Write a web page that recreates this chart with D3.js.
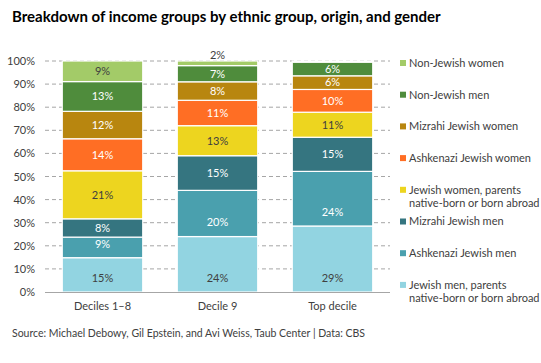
<!DOCTYPE html>
<html>
<head>
<meta charset="utf-8">
<script src="https://cdn.jsdelivr.net/npm/d3@7"></script>
<style>
  body { margin: 0; background: #fff; }
  text { font-family: Lato, "Open Sans", sans-serif; }
</style>
</head>
<body>
<div id="chart"></div>
<script>
const groups = ['Deciles 1\u20138', 'Decile 9', 'Top decile'];
// series listed bottom to top of the stack
const seriesNames = [
  'Jewish men, parents\nnative-born or born abroad',
  'Ashkenazi Jewish men',
  'Mizrahi Jewish men',
  'Jewish women, parents\nnative-born or born abroad',
  'Ashkenazi Jewish women',
  'Mizrahi Jewish women',
  'Non-Jewish men',
  'Non-Jewish women'
];
const deciles18 = [15, 9, 8, 21, 14, 12, 13, 9];
const decile9 = [24, 20, 15, 13, 11, 8, 7, 2];
const topDecile = [29, 24, 15, 11, 10, 6, 6, 0.5];
const yTicks = [0, 0.1, 0.2, 0.3, 0.4, 0.5, 0.6, 0.7, 0.8, 0.9, 1];
const colors = ['#92d4e1', '#4aa0ae', '#357580', '#edd51f', '#ff6e24', '#b8860f', '#4f8c3c', '#a3cb68'];
const darkLabel = ['#404040', '#fff', '#fff', '#404040', '#fff', '#fff', '#fff', '#404040'];

const width = 541, height = 363;
const margin = {top: 61, left: 45, right: 151, bottom: 71};

const svg = d3.select('#chart').append('svg')
    .attr('width', width)
    .attr('height', height);

// Title
svg.append('text')
    .text('Breakdown of income groups by ethnic group, origin, and gender')
    .attr('x', 12)
    .attr('y', 22)
    .style('font-weight', 'bold')
    .style('font-size', '15px')
    .style('fill', '#000');

// Source
svg.append('text')
    .text('Source: Michael Debowy, Gil Epstein, and Avi Weiss, Taub Center | Data: CBS')
    .attr('x', 12)
    .attr('y', 337)
    .style('font-size', '10.5px')
    .style('fill', '#404040');

const rows = groups.map((g, i) => {
  const vals = [deciles18, decile9, topDecile][i];
  const row = {group: g};
  seriesNames.forEach((s, j) => row[s] = vals[j]);
  return row;
});

const stack = d3.stack()
    .keys(seriesNames)
    .offset(d3.stackOffsetExpand);
const stacked = stack(rows);

const x = d3.scaleBand()
    .domain(groups)
    .range([margin.left, width - margin.right])
    .paddingInner(0.3)
    .paddingOuter(0.15);

const y = d3.scaleLinear()
    .domain([0, 1])
    .range([height - margin.bottom, margin.top]);

// Gridlines
svg.append('g')
    .selectAll('line')
    .data(yTicks.filter(t => t > 0))
    .enter()
    .append('line')
    .attr('x1', margin.left)
    .attr('x2', width - margin.right)
    .attr('y1', d => y(d))
    .attr('y2', d => y(d))
    .style('stroke', '#a6a6a6')
    .style('stroke-width', 1)
    .style('stroke-dasharray', '4,3');

// Y axis labels
const yAxis = svg.append('g')
    .attr('transform', `translate(${margin.left},0)`)
    .call(d3.axisLeft(y).tickValues(yTicks).tickFormat(d3.format('.0%')).tickSize(0).tickPadding(10));
yAxis.select('.domain').remove();
yAxis.selectAll('text')
    .style('font-size', '11px')
    .style('fill', '#404040')
    .style('font-family', 'Lato, sans-serif');

// Bars
const layer = svg.append('g')
    .selectAll('g')
    .data(stacked)
    .enter()
    .append('g')
    .style('fill', (d, i) => colors[i]);

layer.selectAll('rect')
    .data(d => d)
    .enter()
    .append('rect')
    .attr('x', d => x(d.data.group))
    .attr('y', d => y(d[1]))
    .attr('width', x.bandwidth())
    .attr('height', d => y(d[0]) - y(d[1]))
    .style('stroke', '#fff')
    .style('stroke-width', 1.2);

// X axis
const xAxis = svg.append('g')
    .attr('transform', `translate(0,${height - margin.bottom})`)
    .call(d3.axisBottom(x).tickSize(0).tickPadding(10));
xAxis.select('.domain')
    .attr('d', `M${margin.left},0.5H${width - margin.right}`)
    .style('stroke', '#a6a6a6');
xAxis.selectAll('text')
    .style('font-size', '11px')
    .style('fill', '#404040')
    .style('font-family', 'Lato, sans-serif');

// Data labels
stacked.forEach((s, i) => {
  s.forEach(d => {
    const v = d.data[s.key];
    if (v < 1) return;
    const h = y(d[0]) - y(d[1]);
    let ly;
    if (h < 8) ly = y(d[1]) - 6;           // too thin: put label above the bar
    else if (i < 2) ly = y(d[0]) - 14;     // lowest two series sit near the base
    else ly = (y(d[0]) + y(d[1])) / 2;
    svg.append('text')
        .text(v + '%')
        .attr('x', x(d.data.group) + x.bandwidth() / 2)
        .attr('y', ly)
        .attr('dy', '0.35em')
        .style('text-anchor', 'middle')
        .style('font-size', '11px')
        .style('fill', h < 8 ? '#404040' : darkLabel[i]);
  });
});

// Legend, top to bottom
const legend = svg.append('g')
    .selectAll('g')
    .data(seriesNames.slice().reverse())
    .enter()
    .append('g')
    .attr('transform', (d, i) => `translate(400,${63 + i * 31.7})`);

legend.append('rect')
    .attr('x', 0)
    .attr('y', -3)
    .attr('width', 6)
    .attr('height', 6)
    .style('fill', d => colors[seriesNames.indexOf(d)]);

legend.append('text')
    .attr('x', 9)
    .attr('y', 0)
    .style('font-size', '11px')
    .style('fill', '#404040')
    .selectAll('tspan')
    .data(d => d.split('\n'))
    .enter()
    .append('tspan')
    .attr('x', 9)
    .attr('y', (d, i) => i * 13.5)
    .attr('dy', '0.35em')
    .text(d => d);
</script>
</body>
</html>
